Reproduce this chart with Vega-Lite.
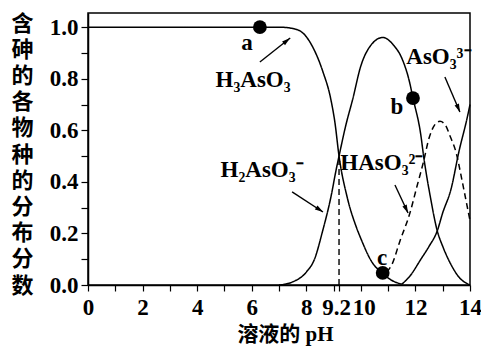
{
  "$schema": "https://vega.github.io/schema/vega-lite/v6.json",
  "width": 382,
  "height": 272,
  "autosize": "none",
  "padding": {"left": 88, "top": 13, "right": 11, "bottom": 62},
  "background": "white",
  "config": {
    "view": {"stroke": "black", "strokeWidth": 1.5},
    "axis": {"grid": false, "domainColor": "black", "domainWidth": 1.5, "tickColor": "black", "tickWidth": 1.2, "labelColor": "black", "titleColor": "black"}
  },
  "datasets": {
    "curves": [
      {"s": "H3AsO3", "pH": 0, "v": 1.0},
      {"s": "H3AsO3", "pH": 7.0, "v": 1.0},
      {"s": "H3AsO3", "pH": 7.5, "v": 0.995},
      {"s": "H3AsO3", "pH": 7.9, "v": 0.975},
      {"s": "H3AsO3", "pH": 8.2, "v": 0.93},
      {"s": "H3AsO3", "pH": 8.6, "v": 0.83},
      {"s": "H3AsO3", "pH": 8.9, "v": 0.72},
      {"s": "H3AsO3", "pH": 9.05, "v": 0.63},
      {"s": "H3AsO3", "pH": 9.2, "v": 0.5},
      {"s": "H3AsO3", "pH": 9.5, "v": 0.34},
      {"s": "H3AsO3", "pH": 9.85, "v": 0.22},
      {"s": "H3AsO3", "pH": 10.0, "v": 0.18},
      {"s": "H3AsO3", "pH": 10.4, "v": 0.09},
      {"s": "H3AsO3", "pH": 10.8, "v": 0.045},
      {"s": "H3AsO3", "pH": 11.1, "v": 0.02},
      {"s": "H3AsO3", "pH": 11.5, "v": 0.003},
      {"s": "H2AsO3-", "pH": 7.0, "v": 0.0},
      {"s": "H2AsO3-", "pH": 7.5, "v": 0.012},
      {"s": "H2AsO3-", "pH": 8.0, "v": 0.05},
      {"s": "H2AsO3-", "pH": 8.3, "v": 0.1},
      {"s": "H2AsO3-", "pH": 8.6, "v": 0.21},
      {"s": "H2AsO3-", "pH": 8.9, "v": 0.34},
      {"s": "H2AsO3-", "pH": 9.1, "v": 0.45},
      {"s": "H2AsO3-", "pH": 9.2, "v": 0.5},
      {"s": "H2AsO3-", "pH": 9.45, "v": 0.62},
      {"s": "H2AsO3-", "pH": 9.7, "v": 0.72},
      {"s": "H2AsO3-", "pH": 10.0, "v": 0.85},
      {"s": "H2AsO3-", "pH": 10.3, "v": 0.92},
      {"s": "H2AsO3-", "pH": 10.8, "v": 0.96},
      {"s": "H2AsO3-", "pH": 11.2, "v": 0.93},
      {"s": "H2AsO3-", "pH": 11.5, "v": 0.88},
      {"s": "H2AsO3-", "pH": 11.8, "v": 0.78},
      {"s": "H2AsO3-", "pH": 11.9, "v": 0.73},
      {"s": "H2AsO3-", "pH": 12.2, "v": 0.58},
      {"s": "H2AsO3-", "pH": 12.3, "v": 0.5},
      {"s": "H2AsO3-", "pH": 12.55, "v": 0.34},
      {"s": "H2AsO3-", "pH": 12.8, "v": 0.21},
      {"s": "H2AsO3-", "pH": 13.0, "v": 0.15},
      {"s": "H2AsO3-", "pH": 13.3, "v": 0.08},
      {"s": "H2AsO3-", "pH": 13.6, "v": 0.03},
      {"s": "H2AsO3-", "pH": 14.0, "v": 0.0},
      {"s": "HAsO32-", "pH": 10.95, "v": 0.05},
      {"s": "HAsO32-", "pH": 11.14, "v": 0.08},
      {"s": "HAsO32-", "pH": 11.43, "v": 0.17},
      {"s": "HAsO32-", "pH": 11.8, "v": 0.28},
      {"s": "HAsO32-", "pH": 12.05, "v": 0.38},
      {"s": "HAsO32-", "pH": 12.3, "v": 0.48},
      {"s": "HAsO32-", "pH": 12.5, "v": 0.57},
      {"s": "HAsO32-", "pH": 12.7, "v": 0.62},
      {"s": "HAsO32-", "pH": 12.9, "v": 0.635},
      {"s": "HAsO32-", "pH": 13.1, "v": 0.62},
      {"s": "HAsO32-", "pH": 13.26, "v": 0.58},
      {"s": "HAsO32-", "pH": 13.5, "v": 0.51},
      {"s": "HAsO32-", "pH": 13.7, "v": 0.41},
      {"s": "HAsO32-", "pH": 13.85, "v": 0.33},
      {"s": "HAsO32-", "pH": 14.0, "v": 0.25},
      {"s": "AsO33-", "pH": 11.5, "v": 0.003},
      {"s": "AsO33-", "pH": 11.8, "v": 0.035},
      {"s": "AsO33-", "pH": 12.2, "v": 0.1},
      {"s": "AsO33-", "pH": 12.5, "v": 0.15},
      {"s": "AsO33-", "pH": 12.8, "v": 0.21},
      {"s": "AsO33-", "pH": 13.0, "v": 0.28},
      {"s": "AsO33-", "pH": 13.3, "v": 0.37},
      {"s": "AsO33-", "pH": 13.6, "v": 0.52},
      {"s": "AsO33-", "pH": 13.9, "v": 0.65},
      {"s": "AsO33-", "pH": 14.0, "v": 0.7}
    ],
    "vline": [{"pH": 9.2, "v": 0, "v2": 0.5}],
    "points": [
      {"name": "a", "pH": 6.3, "v": 1.0},
      {"name": "b", "pH": 11.91, "v": 0.725},
      {"name": "c", "pH": 10.8, "v": 0.047}
    ],
    "letters": [
      {"t": "a", "pH": 5.83, "v": 0.938},
      {"t": "b", "pH": 11.32, "v": 0.69},
      {"t": "c", "pH": 10.78, "v": 0.105}
    ],
    "species": [
      {"t": "H₃AsO₃", "pH": 6.05, "v": 0.795},
      {"t": "H₂AsO₃⁻", "pH": 6.38, "v": 0.446},
      {"t": "HAsO₃²⁻", "pH": 10.77, "v": 0.473},
      {"t": "AsO₃³⁻", "pH": 12.86, "v": 0.884}
    ],
    "arrows": [
      {"name": "A1", "pH": 6.3, "v": 0.865, "pH2": 7.41, "v2": 0.958},
      {"name": "A2", "pH": 13.08, "v": 0.807, "pH2": 13.63, "v2": 0.671},
      {"name": "A3", "pH": 11.25, "v": 0.388, "pH2": 11.73, "v2": 0.279},
      {"name": "A4", "pH": 7.48, "v": 0.361, "pH2": 8.61, "v2": 0.283}
    ],
    "heads": [
      {"name": "A1", "pH": 7.257, "v": 0.945},
      {"name": "A2", "pH": 13.56, "v": 0.689},
      {"name": "A3", "pH": 11.65, "v": 0.297},
      {"name": "A4", "pH": 8.46, "v": 0.294}
    ]
  },
  "encoding": {
    "x": {
      "field": "pH", "type": "quantitative",
      "scale": {"domain": [0, 14], "nice": false, "zero": false},
      "axis": {
        "values": [0, 1, 2, 3, 4, 5, 6, 7, 8, 9, 9.2, 10, 11, 12, 13, 14],
        "labelExpr": "datum.value == 9.2 ? '9.2' : (datum.value % 2 == 0 ? format(datum.value, 'd') : '')",
        "labelOverlap": false, "labelFlush": false, "labelBound": false,
        "labelOffset": {"condition": [{"test": "datum.value == 9.2", "value": -3}, {"test": "datum.value == 10", "value": 3}], "value": 0},
        "labelFont": "Liberation Serif", "labelFontWeight": "bold", "labelFontSize": 23,
        "tickSize": 6, "labelPadding": 5,
        "title": "溶液的 pH",
        "titleFont": "Liberation Serif, Noto Sans CJK SC", "titleFontWeight": "bold", "titleFontSize": 21,
        "titleBaseline": "top", "titleY": 38, "titleX": 197, "titleAnchor": "middle"
      }
    },
    "y": {
      "field": "v", "type": "quantitative",
      "scale": {"domain": [0, 1.055], "nice": false},
      "axis": {
        "values": [0, 0.1, 0.2, 0.3, 0.4, 0.5, 0.6, 0.7, 0.8, 0.9, 1.0],
        "labelExpr": "round(datum.value * 10) % 2 == 0 ? format(datum.value, '.1f') : ''",
        "labelFont": "Liberation Serif", "labelFontWeight": "bold", "labelFontSize": 23,
        "tickSize": 7, "labelPadding": 3,
        "title": ["含", "砷", "的", "各", "物", "种", "的", "分", "布", "分", "数"],
        "titleFont": "Noto Sans CJK SC", "titleFontWeight": "bold", "titleFontSize": 22,
        "titleAngle": 0, "titleAlign": "center", "titleBaseline": "top",
        "titleLineHeight": 26.2, "titleX": -66, "titleY": 0
      }
    }
  },
  "layer": [
    {
      "data": {"name": "vline"},
      "mark": {"type": "rule", "color": "black", "strokeWidth": 1.4, "strokeDash": [6, 4]},
      "encoding": {"y2": {"field": "v2"}}
    },
    {
      "data": {"name": "curves"},
      "mark": {"type": "line", "color": "black", "strokeWidth": 1.5, "interpolate": "monotone"},
      "encoding": {
        "detail": {"field": "s", "type": "nominal"},
        "strokeDash": {
          "field": "s", "type": "nominal",
          "scale": {"domain": ["H3AsO3", "H2AsO3-", "HAsO32-", "AsO33-"], "range": [[1, 0], [1, 0], [6, 4], [1, 0]]},
          "legend": null
        }
      }
    },
    {
      "data": {"name": "points"},
      "mark": {"type": "circle", "color": "black", "opacity": 1, "size": 190}
    },
    {
      "data": {"name": "letters"},
      "mark": {"type": "text", "font": "Liberation Serif", "fontWeight": "bold", "fontSize": 23, "align": "center", "baseline": "middle", "color": "black"},
      "encoding": {"text": {"field": "t"}}
    },
    {
      "data": {"name": "species"},
      "mark": {"type": "text", "font": "Liberation Serif", "fontWeight": "bold", "fontSize": 23, "align": "center", "baseline": "middle", "color": "black"},
      "encoding": {"text": {"field": "t"}}
    },
    {
      "data": {"name": "arrows"},
      "mark": {"type": "rule", "color": "black", "strokeWidth": 1.4},
      "encoding": {"x2": {"field": "pH2"}, "y2": {"field": "v2"}}
    },
    {
      "data": {"name": "heads"},
      "mark": {"type": "point", "filled": true, "color": "black", "opacity": 1, "size": 110},
      "encoding": {
        "shape": {
          "field": "name", "type": "nominal",
          "scale": {"domain": ["A1", "A2", "A3", "A4"], "range": [
            "M0.78,-0.63L-0.19,0.73L-0.75,0.02Z",
            "M0.39,0.92L-0.65,-0.37L0.18,-0.73Z",
            "M0.42,0.91L-0.66,-0.36L0.16,-0.73Z",
            "M0.84,0.54L-0.75,0.05L-0.26,-0.7Z"
          ]},
          "legend": null
        }
      }
    }
  ]
}
